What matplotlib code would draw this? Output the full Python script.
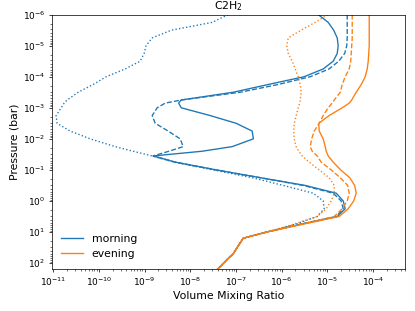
import matplotlib
matplotlib.use("Agg")
import matplotlib.pyplot as plt

# pressure levels (bar)
pressure = [1e-6, 1.78e-6, 3.16e-6, 5.62e-6, 1e-5, 1.78e-5, 3.16e-5, 5.62e-5,
            1e-4, 1.78e-4, 3.16e-4, 5.62e-4, 7.08e-4, 1e-3, 1.78e-3, 3.16e-3,
            5.62e-3, 1e-2, 1.78e-2, 2.51e-2, 3.55e-2, 5.62e-2, 0.1, 0.178,
            0.316, 0.562, 1.0, 1.78, 3.16, 5.62, 10.0, 15.8, 31.6, 50.1,
            70.8, 112.0, 200.0]

# C2H2 volume mixing ratios
morning = [6.3e-6, 1.04e-5, 1.37e-5, 1.64e-5, 1.72e-5, 1.64e-5, 1.34e-5, 8.09e-6,
           3.1e-6, 5.07e-7, 8.69e-8, 6.3e-9, 5.57e-9, 6.33e-9, 2.72e-8, 1.01e-7,
           2.26e-7, 2.4e-7, 8.26e-8, 1.8e-8, 1.54e-9, 4.68e-9, 3.69e-8, 3.39e-7,
           3.27e-6, 1.56e-5, 2.22e-5, 2.45e-5, 1.64e-5, 2.6e-6, 4.7e-7, 1.44e-7,
           1.06e-7, 8.69e-8, 6.75e-8, 4.99e-8, 3.33e-8]
morning_dashed = [2.71e-5, 2.71e-5, 2.71e-5, 2.71e-5, 2.65e-5, 2.39e-5, 1.77e-5, 1.09e-5,
                  4.21e-6, 8.37e-7, 1.24e-7, 6.3e-9, 2.82e-9, 1.89e-9, 1.47e-9, 1.71e-9,
                  3.28e-9, 6.0e-9, 7.0e-9, 3.4e-9, 1.54e-9, 4.68e-9, 3.69e-8, 3.39e-7,
                  2.95e-6, 1.34e-5, 2.0e-5, 2.22e-5, 1.56e-5, 2.5e-6, 4.7e-7, 1.44e-7,
                  1.06e-7, 8.69e-8, 6.75e-8, 4.99e-8, 3.33e-8]
morning_dotted = [6.75e-8, 3.01e-8, 3.9e-9, 1.47e-9, 1.08e-9, 9.79e-10, 8.02e-10, 3.76e-10,
                  1.45e-10, 7.5e-11, 3.52e-11, 2.02e-11, 1.74e-11, 1.5e-11, 1.16e-11, 1.22e-11,
                  2.36e-11, 6.46e-11, 2.28e-10, 5.64e-10, 1.47e-9, 4.4e-9, 3.17e-8, 2.26e-7,
                  1.08e-6, 4.89e-6, 8.09e-6, 8.51e-6, 5.98e-6, 1.97e-6, 4.7e-7, 1.44e-7,
                  1.06e-7, 8.69e-8, 6.75e-8, 4.99e-8, 3.33e-8]

evening = [8.22e-5, 8.22e-5, 8.22e-5, 8.22e-5, 8.22e-5, 8.02e-5, 7.82e-5, 7.43e-5,
           6.71e-5, 5.5e-5, 4.27e-5, 3.4e-5, 3.0e-5, 2.11e-5, 1.09e-5, 6.46e-6,
           6.62e-6, 8.09e-6, 8.96e-6, 9.42e-6, 1.04e-5, 1.34e-5, 1.95e-5, 3.08e-5,
           3.95e-5, 4.27e-5, 3.76e-5, 2.85e-5, 1.81e-5, 2.9e-6, 4.7e-7, 1.44e-7,
           1.06e-7, 8.69e-8, 6.75e-8, 4.99e-8, 3.33e-8]
evening_dashed = [3.49e-5, 3.49e-5, 3.49e-5, 3.49e-5, 3.4e-5, 3.32e-5, 3.24e-5, 3.0e-5,
                  2.45e-5, 2.11e-5, 1.91e-5, 1.41e-5, 1.27e-5, 1.04e-5, 8.09e-6, 6.62e-6,
                  5.14e-6, 4.53e-6, 4.21e-6, 4.65e-6, 5.98e-6, 7.31e-6, 1.21e-5, 1.91e-5,
                  2.78e-5, 3.0e-5, 2.71e-5, 2.11e-5, 1.41e-5, 2.7e-6, 4.7e-7, 1.44e-7,
                  1.06e-7, 8.69e-8, 6.75e-8, 4.99e-8, 3.33e-8]
evening_dotted = [1.02e-5, 5.41e-6, 2.67e-6, 1.39e-6, 1.29e-6, 1.39e-6, 1.7e-6, 1.97e-6,
                  2.3e-6, 2.54e-6, 2.67e-6, 2.54e-6, 2.48e-6, 2.3e-6, 2.07e-6, 1.88e-6,
                  1.83e-6, 1.88e-6, 2.07e-6, 2.36e-6, 2.81e-6, 4.0e-6, 6.62e-6, 1.09e-5,
                  1.41e-5, 1.41e-5, 1.21e-5, 9.42e-6, 5.98e-6, 1.8e-6, 4.7e-7, 1.44e-7,
                  1.06e-7, 8.69e-8, 6.75e-8, 4.99e-8, 3.33e-8]

fig, ax = plt.subplots(figsize=(6.385, 4.785), dpi=65)
fig.subplots_adjust(left=0.1246, right=0.976, bottom=0.135, top=0.953)

ax.plot(morning, pressure, color='C0', label='morning')
ax.plot(morning_dashed, pressure, color='C0', ls='--')
ax.plot(morning_dotted, pressure, color='C0', ls=':')
ax.plot(evening, pressure, color='C1', label='evening')
ax.plot(evening_dashed, pressure, color='C1', ls='--')
ax.plot(evening_dotted, pressure, color='C1', ls=':')

ax.set_xscale('log')
ax.set_yscale('log')
ax.set_xlim(9.3e-12, 5e-4)
ax.set_ylim(155, 1e-6)

ax.set_title('C2H$_2$', fontsize=12)
ax.set_xlabel('Volume Mixing Ratio', fontsize=12)
ax.set_ylabel('Pressure (bar)', fontsize=12)
ax.legend(loc='lower left', frameon=False, fontsize=12)

fig.savefig('out.png', dpi=65)
